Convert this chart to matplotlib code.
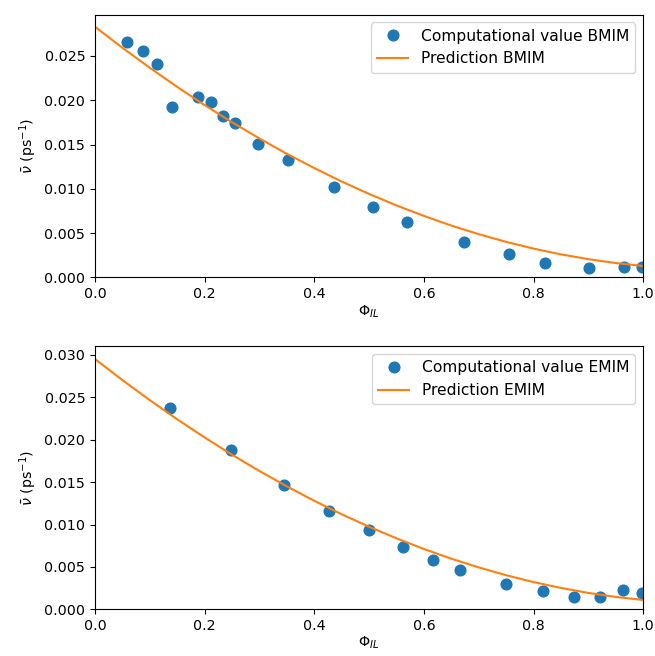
import matplotlib
matplotlib.use("Agg")
import matplotlib.pyplot as plt
import numpy as np

# BMIM computational values
phi_bmim = [0.058, 0.088, 0.113, 0.140, 0.188, 0.212, 0.234, 0.255, 0.297, 0.352,
            0.436, 0.507, 0.569, 0.673, 0.755, 0.821, 0.901, 0.965, 0.998]
nu_bmim = [0.0266, 0.0256, 0.0241, 0.0192, 0.0204, 0.0198, 0.0182, 0.0174, 0.0151, 0.0133,
           0.0102, 0.0079, 0.0063, 0.0040, 0.0026, 0.0016, 0.0011, 0.0012, 0.0012]

# EMIM computational values
phi_emim = [0.137, 0.249, 0.345, 0.426, 0.499, 0.561, 0.616, 0.665, 0.749, 0.817,
            0.874, 0.922, 0.963, 0.997]
nu_emim = [0.0237, 0.0188, 0.0147, 0.0116, 0.0093, 0.0074, 0.0058, 0.0046, 0.0030, 0.0021,
           0.0015, 0.0015, 0.0023, 0.0019]

# prediction curves
phi_pred = [0.0, 0.05, 0.1, 0.15, 0.2, 0.25, 0.3, 0.35, 0.4, 0.45, 0.5,
            0.55, 0.6, 0.65, 0.7, 0.75, 0.8, 0.85, 0.9, 0.95, 1.0]
pred_bmim = [0.02830, 0.02593, 0.02367, 0.02151, 0.01946, 0.01752, 0.01569,
             0.01396, 0.01235, 0.01083, 0.00943, 0.00813, 0.00695, 0.00586,
             0.00489, 0.00402, 0.00326, 0.00261, 0.00207, 0.00163, 0.00130]
pred_emim = [0.02952, 0.02704, 0.02467, 0.02241, 0.02027, 0.01823, 0.01631,
             0.01450, 0.01280, 0.01121, 0.00973, 0.00837, 0.00711, 0.00597,
             0.00494, 0.00402, 0.00321, 0.00252, 0.00193, 0.00146, 0.00110]

plt.rcParams['font.size'] = 10.3

fig = plt.figure(figsize=(6.55, 6.56), dpi=100)
ax1 = fig.add_axes([0.145, 0.577, 0.837, 0.4006])
ax2 = fig.add_axes([0.145, 0.0712, 0.837, 0.4009])

ax1.plot(phi_bmim, nu_bmim, "o", markersize=7.7, label="Computational value BMIM")
ax1.plot(phi_pred, pred_bmim, "-", label="Prediction BMIM")
ax1.set_xlim(0, 1)
ax1.set_ylim(0, 0.02966)
ax1.set_xlabel(r"$\Phi_{IL}$", labelpad=2)
ax1.set_ylabel(r"$\bar{\nu}$ (ps$^{-1}$)")
ax1.legend(loc="upper right", fontsize=11.2)

ax2.plot(phi_emim, nu_emim, "o", markersize=7.7, label="Computational value EMIM")
ax2.plot(phi_pred, pred_emim, "-", label="Prediction EMIM")
ax2.set_xlim(0, 1)
ax2.set_ylim(0, 0.03102)
ax2.set_xlabel(r"$\Phi_{IL}$", labelpad=1)
ax2.set_ylabel(r"$\bar{\nu}$ (ps$^{-1}$)")
ax2.legend(loc="upper right", fontsize=11.2)

fig.savefig("out.png", dpi=100)
